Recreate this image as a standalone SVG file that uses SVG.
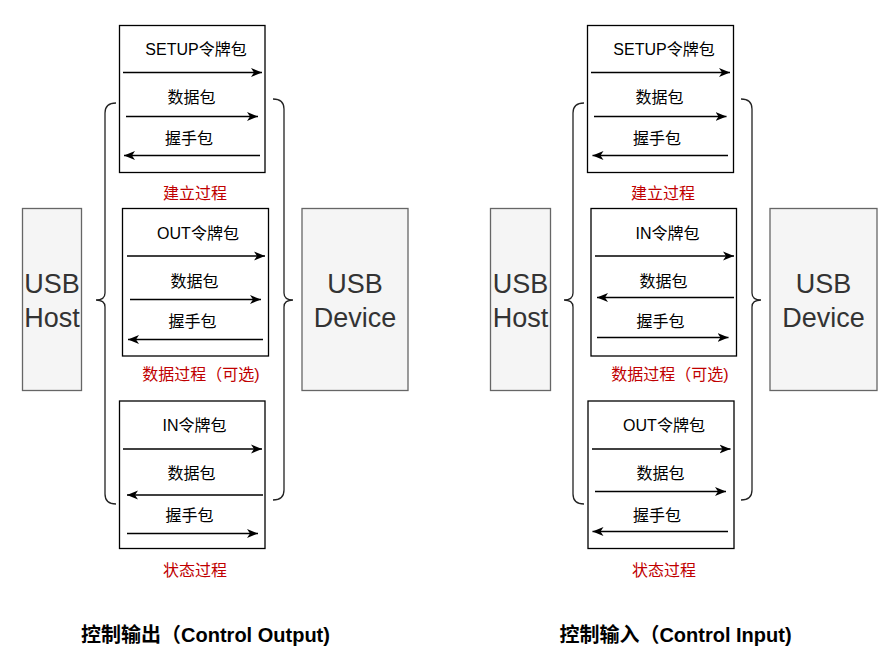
<svg xmlns="http://www.w3.org/2000/svg" width="896" height="671" viewBox="0 0 896 671">
<defs>
<marker id="arr" markerUnits="userSpaceOnUse" markerWidth="12" markerHeight="10" viewBox="0 0 12 10" refX="11" refY="5" orient="auto">
<path d="M0,0.6 L11,5 L0,9.4 L3,5 z" fill="#000"/>
</marker>
<style>
.bg{fill:#ffffff}
.box{fill:#ffffff;stroke:#000;stroke-width:1.3}
.ep{fill:#f5f5f5;stroke:#666666;stroke-width:1.3}
.brace{fill:none;stroke:#222;stroke-width:1.3}
.ln{fill:none;stroke:#000;stroke-width:1.3;marker-end:url(#arr)}
.t{font-family:"Liberation Sans","Noto Sans CJK SC",sans-serif;font-size:16px;fill:#000;text-anchor:middle}
.r{font-family:"Liberation Sans","Noto Sans CJK SC",sans-serif;font-size:16px;fill:#c00000;text-anchor:middle}
.big{font-family:"Liberation Sans","Noto Sans CJK SC",sans-serif;font-size:27px;fill:#333333;text-anchor:middle}
.title{font-family:"Liberation Sans","Noto Sans CJK SC",sans-serif;font-size:20px;font-weight:bold;fill:#000;text-anchor:middle}
</style>
</defs>
<rect class="bg" x="0" y="0" width="896" height="671"/>

<!-- LEFT: Control Output -->
<g id="host-out">
<rect class="ep" x="22.5" y="208.5" width="59" height="182"/>
<text class="big" x="52" y="293">USB</text>
<text class="big" x="52" y="327">Host</text>
</g>
<g id="device-out">
<rect class="ep" x="302" y="208.5" width="106" height="182"/>
<text class="big" x="355" y="293">USB</text>
<text class="big" x="355" y="327">Device</text>
</g>
<g id="setup-out">
<rect class="box" x="119.5" y="25.5" width="145.5" height="147"/>
<text class="t" x="196" y="55">SETUP令牌包</text>
<text class="t" x="191.5" y="103">数据包</text>
<text class="t" x="189" y="144">握手包</text>
<text class="r" x="195" y="199">建立过程</text>
</g>
<g id="data-out">
<rect class="box" x="122.5" y="208.5" width="146" height="147.5"/>
<text class="t" x="198" y="239">OUT令牌包</text>
<text class="t" x="194.5" y="287">数据包</text>
<text class="t" x="192.5" y="327">握手包</text>
<text class="r" x="201" y="380">数据过程（可选)</text>
</g>
<g id="status-out">
<rect class="box" x="119.5" y="401" width="145.5" height="147.5"/>
<text class="t" x="194.5" y="431">IN令牌包</text>
<text class="t" x="191.5" y="479">数据包</text>
<text class="t" x="189.5" y="521">握手包</text>
<text class="r" x="195" y="576">状态过程</text>
</g>
<g id="title-out">
<text class="title" x="205.5" y="642">控制输出（Control Output)</text>
</g>

<!-- RIGHT: Control Input -->
<g id="host-in">
<rect class="ep" x="490.5" y="208.5" width="60" height="182"/>
<text class="big" x="520.5" y="293">USB</text>
<text class="big" x="520.5" y="327">Host</text>
</g>
<g id="device-in">
<rect class="ep" x="770" y="208.5" width="107" height="182"/>
<text class="big" x="823.5" y="293">USB</text>
<text class="big" x="823.5" y="327">Device</text>
</g>
<g id="setup-in">
<rect class="box" x="587.5" y="25.5" width="146" height="147"/>
<text class="t" x="664" y="55">SETUP令牌包</text>
<text class="t" x="659.5" y="103">数据包</text>
<text class="t" x="657" y="144">握手包</text>
<text class="r" x="663" y="199">建立过程</text>
</g>
<g id="data-in">
<rect class="box" x="591" y="208.5" width="145.5" height="147.5"/>
<text class="t" x="667.5" y="239">IN令牌包</text>
<text class="t" x="663.5" y="287">数据包</text>
<text class="t" x="660.5" y="327">握手包</text>
<text class="r" x="670" y="380">数据过程（可选)</text>
</g>
<g id="status-in">
<rect class="box" x="588" y="401" width="146" height="147.5"/>
<text class="t" x="664" y="431">OUT令牌包</text>
<text class="t" x="660.5" y="479">数据包</text>
<text class="t" x="657" y="521">握手包</text>
<text class="r" x="664" y="576">状态过程</text>
</g>
<g id="title-in">
<text class="title" x="675.5" y="642">控制输入（Control Input)</text>
</g>

<g id="connectors">
<path class="brace" d="M116,103 Q105,103 105,113 L105,293 Q105,300 96,300 Q105,300 105,307 L105,494 Q105,504 116,504"/>
<path class="brace" d="M273,99 Q284,99 284,109 L284,293 Q284,300 293,300 Q284,300 284,307 L284,490 Q284,500 273,500"/>
<path class="brace" d="M584,103 Q573,103 573,113 L573,293 Q573,300 564,300 Q573,300 573,307 L573,494 Q573,504 584,504"/>
<path class="brace" d="M741,99 Q752,99 752,109 L752,293 Q752,300 761,300 Q752,300 752,307 L752,490 Q752,500 741,500"/>

<line class="ln" x1="123" y1="72.5" x2="262" y2="72.5"/>
<line class="ln" x1="126" y1="116.5" x2="258" y2="116.5"/>
<line class="ln" x1="260" y1="155.5" x2="124" y2="155.5"/>
<line class="ln" x1="127" y1="256" x2="265" y2="256"/>
<line class="ln" x1="130" y1="299.5" x2="261" y2="299.5"/>
<line class="ln" x1="263" y1="339.5" x2="128" y2="339.5"/>
<line class="ln" x1="123" y1="449" x2="262" y2="449"/>
<line class="ln" x1="263" y1="495" x2="127" y2="495"/>
<line class="ln" x1="127" y1="533.5" x2="258" y2="533.5"/>

<line class="ln" x1="591" y1="72.5" x2="730" y2="72.5"/>
<line class="ln" x1="594" y1="116.5" x2="726.5" y2="116.5"/>
<line class="ln" x1="728" y1="155.5" x2="592.5" y2="155.5"/>
<line class="ln" x1="595" y1="256" x2="734" y2="256"/>
<line class="ln" x1="734" y1="297.5" x2="597" y2="297.5"/>
<line class="ln" x1="597" y1="337.5" x2="728.5" y2="337.5"/>
<line class="ln" x1="592" y1="449" x2="730.5" y2="449"/>
<line class="ln" x1="595" y1="491.5" x2="726" y2="491.5"/>
<line class="ln" x1="728" y1="531.5" x2="592.5" y2="531.5"/>
</g>
</svg>
